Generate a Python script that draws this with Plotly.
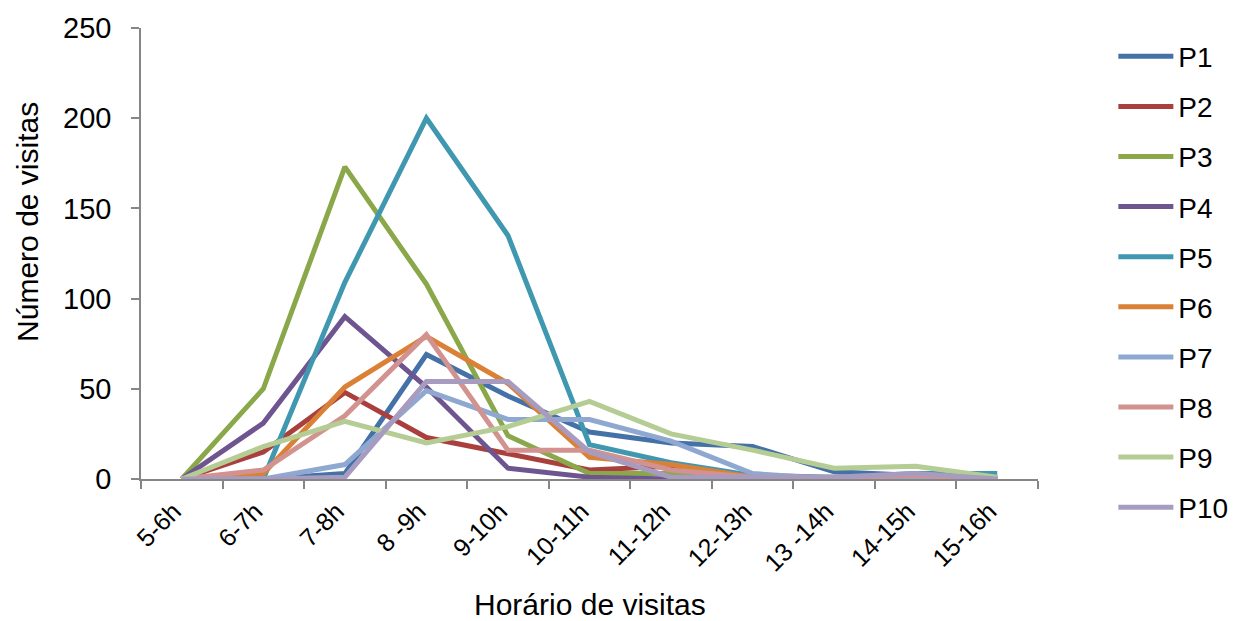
import plotly.graph_objects as go

categories = ["5-6h", "6-7h", "7-8h", "8 -9h", "9-10h", "10-11h", "11-12h",
              "12-13h", "13 -14h", "14-15h", "15-16h"]

p1 = [0, 0, 3, 69, 46, 26, 20, 18, 4, 2, 1]
p2 = [0, 15, 48, 23, 14, 5, 7, 1, 0, 0, 0]
p3 = [0, 50, 173, 108, 24, 3, 3, 0, 0, 0, 0]
p4 = [0, 31, 90, 51, 6, 1, 0, 0, 0, 0, 0]
p5 = [0, 0, 109, 200, 135, 19, 9, 2, 1, 3, 3]
p6 = [0, 3, 51, 79, 53, 12, 8, 1, 0, 0, 0]
p7 = [0, 0, 8, 49, 33, 33, 21, 3, 0, 0, 0]
p8 = [0, 5, 35, 80, 16, 16, 5, 1, 1, 2, 0]
p9 = [0, 18, 32, 20, 29, 43, 25, 16, 6, 7, 1]
p10 = [0, 0, 1, 54, 54, 15, 1, 1, 1, 3, 0]

series_names = ["P1", "P2", "P3", "P4", "P5", "P6", "P7", "P8", "P9", "P10"]
series_values = [p1, p2, p3, p4, p5, p6, p7, p8, p9, p10]
colors = ["#4471A6", "#A9403D", "#8AA84A", "#6F5590", "#3F97B0",
          "#DB8137", "#8EA8D1", "#D29290", "#B5CD95", "#A89BC0"]

y_ticks = [0, 50, 100, 150, 200, 250]

FONT = "Liberation Sans, Arial, sans-serif"

fig = go.Figure()
for i, (name, vals, col) in enumerate(zip(series_names, series_values, colors)):
    fig.add_trace(go.Scatter(
        x=categories, y=vals, name=name, mode="lines",
        line=dict(color=col, width=5),
        legendgroup=name,
    ))

fig.update_layout(
    width=1229, height=613,
    margin=dict(l=133, r=199, t=20, b=142, autoexpand=False),
    paper_bgcolor="white", plot_bgcolor="white",
    font=dict(family=FONT, color="black", size=26),
    showlegend=True,
    legend=dict(
        x=1.084, y=0.992, xanchor="left", yanchor="top",
        font=dict(size=28, family=FONT, color="black"),
        tracegroupgap=10.7, itemwidth=55, maxheight=600,
        bgcolor="rgba(0,0,0,0)",
    ),
    xaxis=dict(
        type="category", range=[-0.5, 10.5], automargin=False,
        showline=True, linecolor="#868686", linewidth=1.5,
        ticks="outside", tickson="boundaries", ticklen=8,
        tickcolor="#868686", tickwidth=1.5,
        tickangle=-45, tickfont=dict(size=25, family=FONT),
        ticklabelshift=-8, ticklabelstandoff=6,
        showgrid=False, zeroline=False,
    ),
    yaxis=dict(
        range=[0, 250], tickvals=y_ticks, automargin=False,
        showline=True, linecolor="#868686", linewidth=1.5,
        ticks="outside", ticklen=8, tickcolor="#868686", tickwidth=1.5,
        tickfont=dict(size=29, family=FONT), ticklabelstandoff=14,
        showgrid=False, zeroline=False,
    ),
    annotations=[
        dict(text="Horário de visitas", xref="paper", yref="paper",
             x=0.5, y=-0.278, xanchor="center", yanchor="middle",
             showarrow=False, font=dict(size=30, family=FONT)),
        dict(text="Número de visitas", xref="paper", yref="paper",
             x=-0.126, y=0.57, xanchor="center", yanchor="middle",
             textangle=-90, showarrow=False, font=dict(size=30, family=FONT)),
    ],
)

fig.write_html("out.html")
